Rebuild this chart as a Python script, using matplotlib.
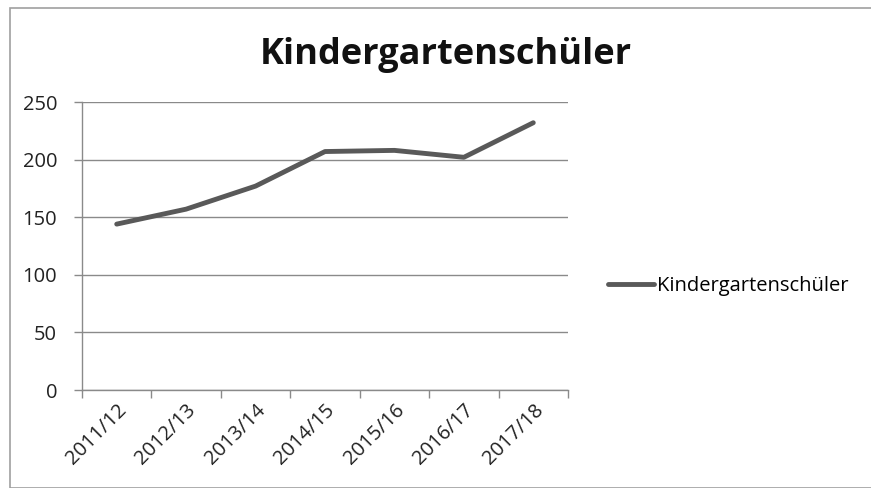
import matplotlib
matplotlib.use("Agg")
import matplotlib.pyplot as plt
from matplotlib.patches import Rectangle
import numpy as np

categories = ["2011/12", "2012/13", "2013/14", "2014/15", "2015/16", "2016/17", "2017/18"]
values = [144, 157, 177, 207, 208, 202, 232]
series_name = "Kindergartenschüler"
title = "Kindergartenschüler"
yticks = [0, 50, 100, 150, 200, 250]

plt.rcParams['font.family'] = ['Open Sans', 'DejaVu Sans']

W, H = 871, 488
fig = plt.figure(figsize=(W / 100, H / 100), dpi=100)
fig.patch.set_facecolor("white")
fig.add_artist(Rectangle((10 / W, 0), 1.0, 1 - 8 / H, transform=fig.transFigure,
                         fill=False, edgecolor="#a0a0a0", linewidth=1.2))

ax = fig.add_axes([82 / W, 1 - 390 / H, (568 - 82) / W, (390 - 102) / H])
x = np.arange(len(categories))
line, = ax.plot(x, values, color="#595959", linewidth=3.5, solid_capstyle="round",
                solid_joinstyle="round", label=series_name)

ax.set_xlim(-0.5, len(categories) - 0.5)
ax.set_ylim(0, 250)
ax.set_yticks(yticks)
ax.set_yticklabels([str(v) for v in yticks], fontsize=14.5, color="#222222")
ax.yaxis.grid(True, color="#8a8a8a", linewidth=1)
ax.set_axisbelow(True)

ax.set_xticks(np.arange(-0.5, len(categories), 1.0))
ax.set_xticklabels([])
ax.set_xticks(x, minor=True)
ax.set_xticklabels(categories, minor=True, rotation=45, ha="right",
                   rotation_mode="anchor", fontsize=14.5, color="#222222")
ax.tick_params(axis="x", which="minor", length=0, pad=7)
ax.tick_params(axis="x", which="major", length=6, color="#8a8a8a", width=1)
ax.tick_params(axis="y", length=6, color="#8a8a8a", width=1, pad=12)

for s in ["top", "right"]:
    ax.spines[s].set_visible(False)
for s in ["left", "bottom"]:
    ax.spines[s].set_color("#8a8a8a")
    ax.spines[s].set_linewidth(1)

fig.text(446 / W, 1 - 55 / H, title, ha="center", va="center", fontsize=26,
         fontweight="bold", color="#111111")

fig.legend(handles=[line], labels=[series_name], loc="center left",
           bbox_to_anchor=(598 / W, 1 - 286 / H), frameon=False, fontsize=14.5,
           handlelength=2.3, handletextpad=0.15, borderpad=0)

fig.savefig("out.png", dpi=100, facecolor="white")
